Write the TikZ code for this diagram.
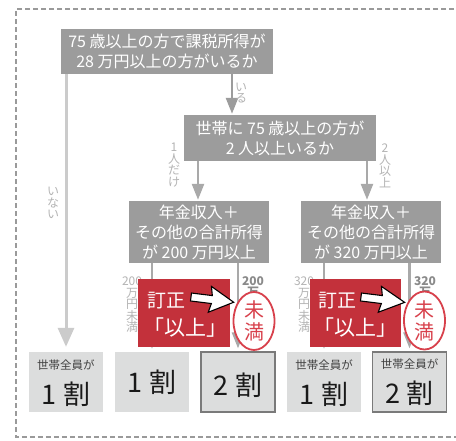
\documentclass[tikz,border=0pt]{standalone}
\usepackage{fontspec}
\setmainfont{Noto Sans CJK JP}
\usetikzlibrary{arrows.meta,shapes.geometric}
\definecolor{qgray}{HTML}{9C9C9C}
\definecolor{lgray}{HTML}{CBCBCB}
\definecolor{agray}{HTML}{A9A9A9}
\definecolor{lblgray}{HTML}{B4B4B4}
\definecolor{lbldark}{HTML}{8A8A8A}
\definecolor{bfill}{HTML}{DCDDDD}
\definecolor{bborder}{HTML}{7A7A7A}
\definecolor{redbox}{HTML}{C3313B}
\definecolor{redline}{HTML}{D8414C}
\definecolor{framegray}{HTML}{9A9A9A}
\begin{document}
\begin{tikzpicture}[x=1pt,y=-1pt,
  qbox/.style={fill=qgray,text=white,align=center,inner sep=0pt,font=\fontsize{16}{20}\selectfont},
  resbox/.style={fill=bfill,inner sep=0pt,minimum width=74pt,minimum height=60pt},
  resframed/.style={resbox,draw=bborder,line width=1.3pt},
  smalltxt/.style={text=black!75,inner sep=0pt,font=\fontsize{11.5}{12}\selectfont},
  bigtxt/.style={text=black!90,inner sep=0pt,font=\fontsize{27}{28}\selectfont},
  conn/.style={draw=agray,line width=2.5pt,-{Triangle[width=12pt,length=16pt]}},
  noconn/.style={draw=lgray,line width=3pt,-{Triangle[width=16pt,length=19pt]}},
  vlbl/.style={text=lblgray,align=center,inner sep=0pt,font=\fontsize{12}{11.5}\selectfont},
  vlbldark/.style={text=lbldark,align=center,inner sep=0pt,font=\bfseries\fontsize{12}{11.5}\selectfont},
  redrect/.style={fill=redbox,inner sep=0pt,minimum height=68pt},
  redtxt/.style={text=white,inner sep=0pt},
  stamp/.style={ellipse,draw=redline,fill=white,line width=1.8pt,inner sep=0pt,
    minimum width=41pt,minimum height=58pt,text=redline,align=center,
    font=\fontsize{20}{22}\selectfont},
  whitearrow/.style={fill=white,draw=black,line width=1.1pt,line join=miter}
]
\useasboundingbox (0,0) rectangle (456,440);
\clip (0,0) rectangle (456,440);
\fill[white] (0,0) rectangle (456,440);

% dashed frame
\draw[framegray,line width=1.1pt,dash pattern=on 5pt off 3pt]
  (470,9) -- (16,9) -- (16,437) -- (470,437);

% question boxes
\node[qbox,minimum width=212pt,minimum height=45pt] (q1) at (167,51.5)
  {75 歳以上の方で課税所得が\\28 万円以上の方がいるか};
\node[qbox,minimum width=192pt,minimum height=46pt] (q2) at (280,138)
  {世帯に 75 歳以上の方が\\2 人以上いるか};
\node[qbox,minimum width=140pt,minimum height=62pt] (q3) at (199,232)
  {年金収入＋\\その他の合計所得\\が 200 万円以上};
\node[qbox,minimum width=140pt,minimum height=62pt] (q4) at (371,232)
  {年金収入＋\\その他の合計所得\\が 320 万円以上};

% result boxes
\node[resbox] (b1) at (66,382) {};
\node[resbox] (b2) at (152,382) {};
\node[resframed] (b3) at (238,382) {};
\node[resbox] (b4) at (324,382) {};
\node[resframed] (b5) at (409.5,382) {};

\node[smalltxt] (t1a) at ([yshift=-13pt]b1.north) {世帯全員が};
\node[bigtxt] (t1b) at ([yshift=-42pt]b1.north) {1 割};
\node[bigtxt] (t2) at (b2.center) {1 割};
\node[bigtxt] (t3) at ([yshift=-3pt]b3.center) {2 割};
\node[smalltxt] (t4a) at ([yshift=-13pt]b4.north) {世帯全員が};
\node[bigtxt] (t4b) at ([yshift=-42pt]b4.north) {1 割};
\node[smalltxt] (t5a) at ([yshift=-13pt]b5.north) {世帯全員が};
\node[bigtxt] (t5b) at ([yshift=-42pt]b5.north) {2 割};

% connectors
\coordinate (xiru) at (232,0);
\coordinate (xone) at (198,0);
\coordinate (xtwo) at (367,0);
\draw[noconn,shorten >=5pt] (q1.south -| b1.north) -- (b1.north);
\draw[conn,draw=qgray,shorten >=1pt] (xiru |- q1.south) -- (xiru |- q2.north);
\draw[conn,shorten >=1pt] (xone |- q2.south) -- (xone |- q3.north);
\draw[conn,shorten >=1pt] (xtwo |- q2.south) -- (xtwo |- q4.north);
\draw[conn,shorten >=3pt] (q3.south -| b2.north) -- (b2.north);
\draw[conn,shorten >=3pt] (q3.south -| b3.north) -- (b3.north);
\draw[conn,shorten >=3pt] (q4.south -| b4.north) -- (b4.north);
\draw[conn,shorten >=3pt] (q4.south -| b5.north) -- (b5.north);

% connector labels
\node[vlbl] (l1) at (53,203) {い\\な\\い};
\node[vlbl] (l2) at (241,93) {い\\る};
\node[vlbl] (l3) at (174,165) {1\\人\\だ\\け};
\node[vlbl] (l4) at (385,166) {2\\人\\以\\上};
\node[vlbl] (l5) at (132,305) {200\\万\\円\\未\\満};
\node[vlbldark] (l6) at (253,287) {200\\万};
\node[vlbl] (l7) at (304,305) {320\\万\\円\\未\\満};
\node[vlbldark] (l8) at (425,287) {320\\万};

% correction boxes
\node[redrect,minimum width=92pt] (r1) at (184,313) {};
\node[redrect,minimum width=91pt] (r2) at (355.5,313) {};
\node[redtxt,font=\fontsize{19}{20}\selectfont] (r1a) at ([xshift=-18pt,yshift=12pt]r1.center) {訂正};
\node[redtxt,font=\fontsize{21}{22}\selectfont] (r1b) at ([xshift=1pt,yshift=-15pt]r1.center) {「以上」};
\node[redtxt,font=\fontsize{19}{20}\selectfont] (r2a) at ([xshift=-18pt,yshift=12pt]r2.center) {訂正};
\node[redtxt,font=\fontsize{21}{22}\selectfont] (r2b) at ([xshift=0pt,yshift=-15pt]r2.center) {「以上」};

% stamps
\node[stamp] (s1) at (254,321) {未\\満};
\node[stamp] (s2) at (424.5,320.5) {未\\満};

% white block arrows
\begin{scope}[shift={(191,297)},rotate=-7]
  \draw[whitearrow] (0,-4) -- (21,-4) -- (19,-13) -- (43,0) -- (19,13) -- (21,4) -- (0,4) -- cycle;
\end{scope}
\begin{scope}[shift={(361,297)},rotate=-7]
  \draw[whitearrow] (0,-4) -- (21,-4) -- (19,-13) -- (44,0) -- (19,13) -- (21,4) -- (0,4) -- cycle;
\end{scope}
\end{tikzpicture}
\end{document}
